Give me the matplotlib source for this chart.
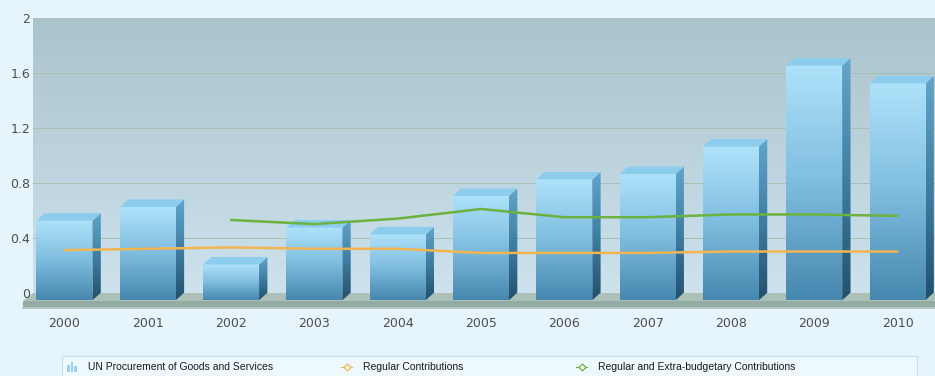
import numpy as np
import matplotlib.pyplot as plt
from matplotlib.colors import LinearSegmentedColormap
from matplotlib.patches import Polygon, Rectangle
from matplotlib.lines import Line2D

# values in US$ billions
years = ['2000', '2001', '2002', '2003', '2004', '2005',
         '2006', '2007', '2008', '2009', '2010']
procurement = [0.58, 0.68, 0.26, 0.53, 0.48, 0.76, 0.88, 0.92, 1.12, 1.71, 1.58]
regular = [0.31, 0.32, 0.33, 0.32, 0.32, 0.29, 0.29, 0.29, 0.30, 0.30, 0.30]
regular_extra = [np.nan, np.nan, 0.53, 0.50, 0.54, 0.61, 0.55, 0.55, 0.57, 0.57, 0.56]
y_ticks = [0, 0.4, 0.8, 1.2, 1.6, 2]
y_tick_labels = ['0', '0.4', '0.8', '1.2', '1.6', '2']
legend_labels = ['UN Procurement of Goods and Services',
                 'Regular Contributions',
                 'Regular and Extra-budgetary Contributions']

W, H = 935, 376
BG = '#e6f5fb'
ORANGE = '#f3b552'
GREEN = '#6cb23e'

fig = plt.figure(figsize=(W / 100, H / 100), dpi=100)
fig.patch.set_facecolor(BG)

ax = fig.add_axes([33 / W, (H - 309) / H, 902 / W, (309 - 18.3) / H])
xmin, xmax = -0.378, 10.45
ymin, ymax = -0.119, 2.0
x = np.arange(len(years))

bar_w = 0.672
dx, dy = 0.1, 0.055   # depth offset of the 3d boxes

front_cmap = LinearSegmentedColormap.from_list('front', ['#4687af', '#7fbddf', '#aee2fa'])
side_cmap = LinearSegmentedColormap.from_list('side', ['#22506d', '#3f7ea3', '#62a6cb'])
wall_cmap = LinearSegmentedColormap.from_list('wall', ['#cde2ec', '#bcd3dd', '#abc3cb'])
grad = np.linspace(0, 1, 256).reshape(-1, 1)

# back wall
ax.imshow(grad, extent=[xmin, xmax, 0, ymax], origin='lower', aspect='auto',
          cmap=wall_cmap, zorder=0)
for t in y_ticks[1:-1]:
    ax.axhline(t, color='#a6c0b4', lw=0.7, zorder=0.5)

# floor slab
floor_top = Polygon([(xmin, 0), (xmax + 1, 0), (xmax + 1, -0.06), (xmin - 0.12, -0.06)],
                    closed=True, facecolor='#abc1b8', edgecolor='none', zorder=1,
                    clip_on=False)
floor_front = Polygon([(xmin - 0.12, -0.06), (xmax + 1, -0.06), (xmax + 1, -0.119),
                       (xmin - 0.12, -0.119)],
                      closed=True, facecolor='#93aba3', edgecolor='none', zorder=1,
                      clip_on=False)
ax.add_patch(floor_top)
ax.add_patch(floor_front)
ax.plot([xmin - 0.12, xmax + 1], [-0.113, -0.113], color='#b9cbc4', lw=1.2,
        zorder=1.1, clip_on=False)

# 3d bars: front face from the library, then side and top faces
bars = ax.bar(x, procurement, width=bar_w, bottom=-dy, color='none',
              edgecolor='none', zorder=2)
for xi, v, rect in zip(x, procurement, bars):
    x0, x1 = xi - bar_w / 2, xi + bar_w / 2
    ax.imshow(grad, extent=[x0, x1, -dy, v - dy], origin='lower', aspect='auto',
              cmap=front_cmap, zorder=2, clip_path=rect)
    side = Polygon([(x1, -dy), (x1, v - dy), (x1 + dx, v), (x1 + dx, 0)],
                   closed=True, facecolor='none', edgecolor='none', zorder=2)
    ax.add_patch(side)
    ax.imshow(grad, extent=[x1, x1 + dx, -dy, v], origin='lower', aspect='auto',
              cmap=side_cmap, zorder=2, clip_path=side)
    top = Polygon([(x0, v - dy), (x1, v - dy), (x1 + dx, v), (x0 + dx, v)],
                  closed=True, facecolor='#8ccdee', edgecolor='none', zorder=2.1)
    ax.add_patch(top)

# contribution lines
ax.plot(x, regular, color=ORANGE, lw=1.8, zorder=4, solid_capstyle='round')
ax.plot(x, regular_extra, color=GREEN, lw=1.8, zorder=4, solid_capstyle='round')

ax.set_xlim(xmin, xmax)
ax.set_ylim(ymin, ymax)
ax.set_xticks(x)
ax.set_xticklabels(years)
ax.set_yticks(y_ticks)
ax.set_yticklabels(y_tick_labels)
ax.tick_params(axis='both', length=0, labelsize=9, labelcolor='#4d4d4d')
ax.tick_params(axis='x', pad=6)
ax.tick_params(axis='y', pad=2)
for s in ax.spines.values():
    s.set_visible(False)

# legend strip
def fx(px):
    return px / W

def fy(py):
    return (H - py) / H

fig.patches.append(Rectangle((fx(62), fy(378)), fx(917) - fx(62), fy(356) - fy(378),
                             transform=fig.transFigure, facecolor='#eef9fe',
                             edgecolor='#c3ddee', lw=0.8))
for bx, bh in [(67, 7), (70.5, 10), (74, 6)]:
    fig.patches.append(Rectangle((fx(bx), fy(372)), fx(2.5), bh / H,
                                 transform=fig.transFigure, facecolor='#9dcfee',
                                 edgecolor='none'))
for x0, c in [(341, ORANGE), (576, GREEN)]:
    fig.lines.append(Line2D([fx(x0), fx(x0 + 11)], [fy(367), fy(367)],
                            transform=fig.transFigure, color=c, lw=0.8))
    fig.lines.append(Line2D([fx(x0 + 5.5)], [fy(367)], transform=fig.transFigure,
                            color=c, marker='D', markersize=3.5, mfc='#eef9fe',
                            mew=0.9, lw=0))

legend_font = dict(fontsize=7.5, color='#1a1a1a', va='center', ha='left',
                   family='Liberation Sans')
fig.text(fx(88), fy(367), legend_labels[0], **legend_font)
fig.text(fx(363), fy(367), legend_labels[1], **legend_font)
fig.text(fx(598), fy(367), legend_labels[2], **legend_font)

fig.savefig('out.png', dpi=100, facecolor=fig.get_facecolor())
